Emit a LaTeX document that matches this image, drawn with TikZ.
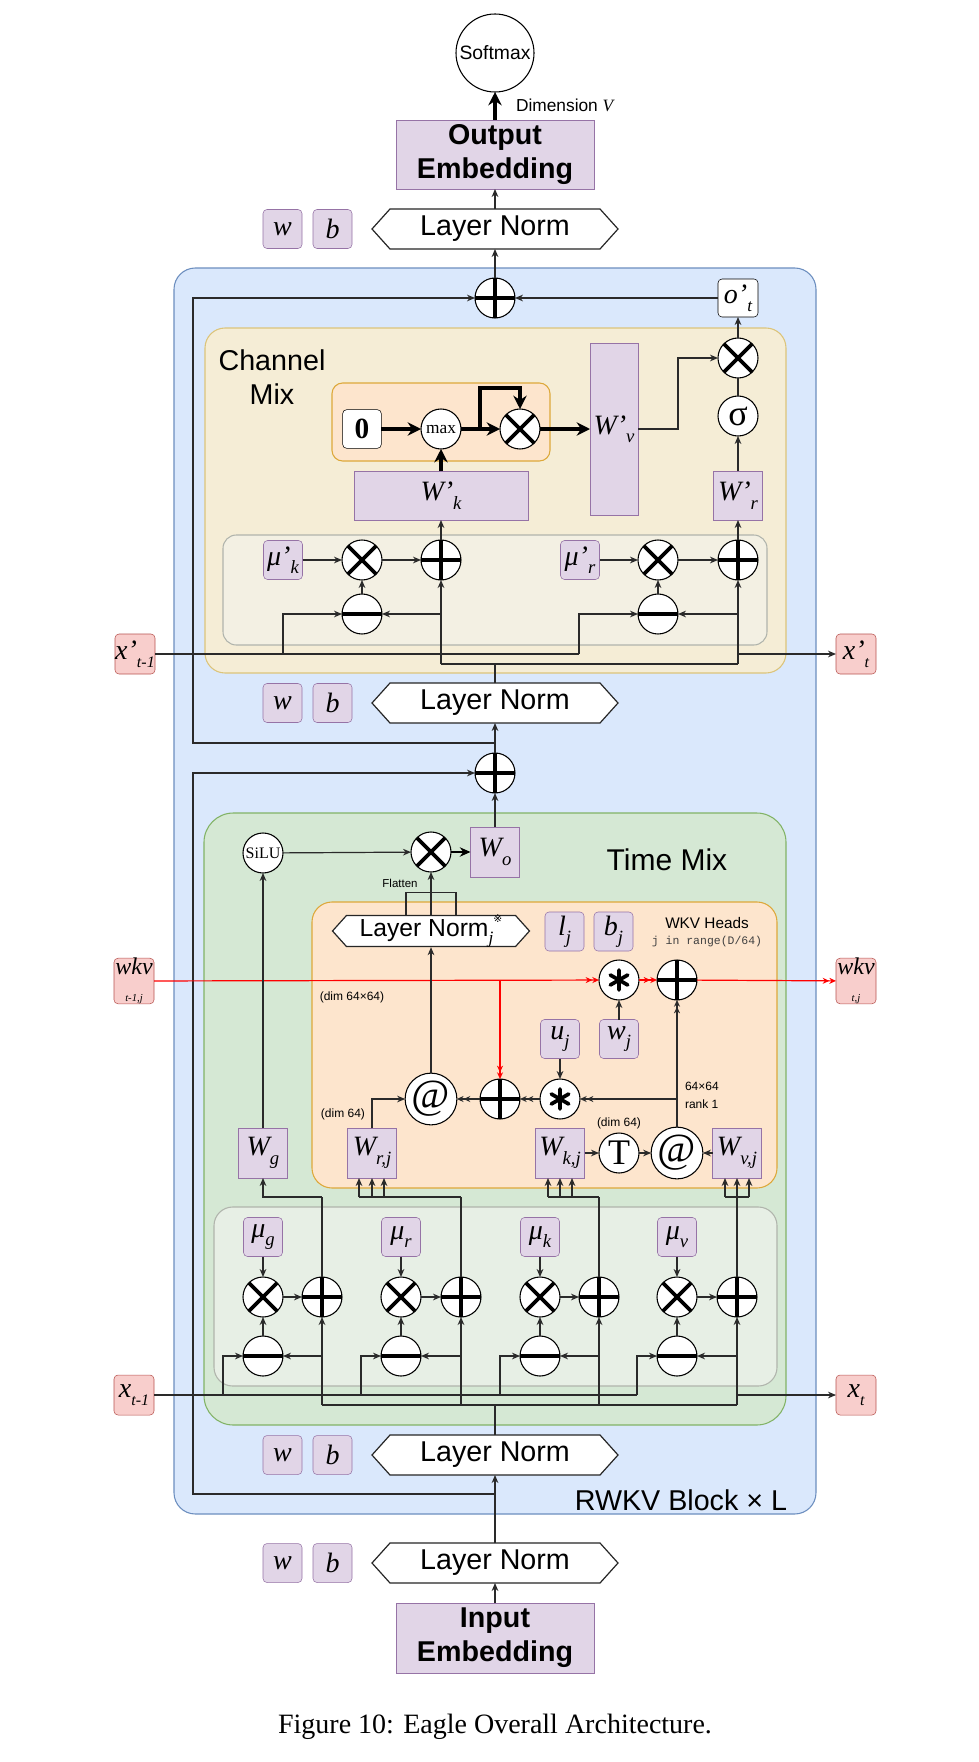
\documentclass[tikz,border=0pt]{standalone}
\usepackage{fontspec}
\setmainfont{Liberation Serif}
\newfontfamily\hv{Liberation Sans}
\newfontfamily\dvs{DejaVu Sans}
\newfontfamily\monof{Liberation Mono}
\usetikzlibrary{arrows.meta,calc}
\definecolor{purF}{HTML}{E1D5E7}
\definecolor{purD}{HTML}{9673A6}
\definecolor{pinkF}{HTML}{F8CECC}
\definecolor{pinkD}{HTML}{B85450}
\definecolor{blueF}{HTML}{DAE8FC}
\definecolor{blueD}{HTML}{6C8EBF}
\definecolor{greenF}{HTML}{D5E8D4}
\definecolor{greenD}{HTML}{82B366}
\definecolor{yelF}{HTML}{F5EDD6}
\definecolor{yelD}{HTML}{DCC47A}
\definecolor{oraF}{HTML}{FDE5CD}
\definecolor{oraD}{HTML}{DDA83A}
\definecolor{mixYF}{HTML}{F3F0E3}
\definecolor{mixGF}{HTML}{E7EFE5}
\definecolor{mixD}{HTML}{B0B4AC}
\definecolor{lineC}{HTML}{2A2A2A}
\definecolor{redC}{HTML}{FF0000}
\newcommand\fsz[2]{\fontsize{#1}{#2}\selectfont}
\newcommand\mth{\fontsize{21}{21}\selectfont\rmfamily\itshape}
\newcommand\sbs[2][14]{\raisebox{-0.3em}{\fontsize{#1}{#1}\selectfont #2}}
\tikzset{
  every node/.style={inner sep=0pt, outer sep=0pt},
  ln/.style={line width=0.9pt, draw=lineC},
  arr/.style={ln, -{Stealth[length=6pt,width=5pt]}},
  darr/.style={ln, -{Stealth[length=5pt,width=4.5pt]Stealth[length=5pt,width=4.5pt]}},
  rarr/.style={draw=redC, line width=0.9pt, -{Stealth[length=5pt,width=4.5pt]Stealth[length=5pt,width=4.5pt]}},
  thk/.style={line width=2.6pt, draw=black, -{Stealth[length=10pt,width=10pt]}},
  midarr/.style={line width=1.8pt, draw=black, -{Stealth[length=8pt,width=7pt]}},
  param/.style={draw=purD, fill=purF, rounded corners=3pt, minimum width=29.25pt, minimum height=29.25pt, font=\mth},
  wbox/.style={draw=purD, fill=purF, minimum width=36.75pt, minimum height=37.5pt, font=\mth},
  opc/.style={circle, draw=black, fill=white, line width=0.8pt, minimum size=30pt},
  opl/.style={line width=2.8pt, draw=black},
  pinkbox/.style={draw=pinkD, fill=pinkF, rounded corners=3pt, minimum width=30pt, minimum height=30pt, font=\mth},
  lbl/.style={font=\hv\fsz{9}{10}},
  cont/.style={line width=0.8pt},
}
\newcommand\opnode[3]{\node[opc] (#1) at ({#2},{#3}) {};}
\newcommand\otimesN[3]{\opnode{#1}{#2}{#3}\draw[opl] (#1.45)--(#1.225) (#1.135)--(#1.315);}
\newcommand\oplusN[3]{\opnode{#1}{#2}{#3}\draw[opl] (#1.north)--(#1.south) (#1.east)--(#1.west);}
\newcommand\ominusN[3]{\opnode{#1}{#2}{#3}\draw[opl] (#1.east)--(#1.west);}
\newcommand\astN[3]{\opnode{#1}{#2}{#3}\draw[line width=2.8pt, line cap=round] ($(#1)+(0,-10)$) -- ($(#1)+(0,10)$) ($(#1)+(-8.7,-5)$) -- ($(#1)+(8.7,5)$) ($(#1)+(-8.7,5)$) -- ($(#1)+(8.7,-5)$);}
\newcommand\LNorm[6]{%
  \draw[line width=0.9pt, draw=black!85, fill=white] ({#2-#4},{#3}) -- ({#2-#4+#5*0.9},{#3-#5}) -- ({#2+#4-#5*0.9},{#3-#5}) -- ({#2+#4},{#3}) -- ({#2+#4-#5*0.9},{#3+#5}) -- ({#2-#4+#5*0.9},{#3+#5}) -- cycle;
  \node[minimum width={2*#4*0.75pt}, minimum height={2*#5*0.75pt}] (#1) at ({#2},{#3}) {#6};}
\begin{document}
\begin{tikzpicture}[x=0.75pt,y=-0.75pt]
\useasboundingbox (0,0) rectangle (978,1762);
\fill[white] (0,0) rectangle (978,1762);
% ---------- containers ----------
\draw[cont, draw=blueD, fill=blueF, rounded corners=16pt] (174,268) rectangle (816,1514);
\draw[cont, draw=yelD, fill=yelF, rounded corners=15pt] (205,328) rectangle (786,673);
\draw[cont, draw=oraD, fill=oraF, rounded corners=8pt] (332,383) rectangle (550,461);
\draw[cont, draw=mixD, fill=mixYF, rounded corners=10pt] (223,535) rectangle (767,645);
\draw[cont, draw=greenD, fill=greenF, rounded corners=22pt] (204,813) rectangle (786,1425);
\draw[cont, draw=oraD, fill=oraF, rounded corners=15pt] (312,902) rectangle (777,1188);
\draw[cont, draw=mixD, fill=mixGF, rounded corners=14pt] (214,1207) rectangle (777,1386);
% ---------- top ----------
\node[circle, draw=black, fill=white, line width=0.8pt, minimum size=58.5pt, font=\hv\fsz{14.5}{16}] (soft) at (495,53) {Softmax};
\node[draw=purD, fill=purF, minimum width=148.5pt, minimum height=51.75pt, align=center, font=\hv\bfseries\fsz{21.5}{25.5}] (oe) at (495,154.5) {Output\\Embedding};
\node[anchor=west, font=\hv\fsz{13}{15}] (dimlbl) at (516,105) {Dimension {\rmfamily\itshape V}};
\LNorm{lnTop}{495}{229}{123}{20}{\hv\fsz{21.5}{24}Layer Norm}
\node[param] (wTop) at (282.5,229) {w};
\node[param] (bTop) at (332.5,229) {b};
\node[anchor=east, font=\hv\fsz{21.5}{24}] (rwkv) at (787,1500) {RWKV Block × L};
% ---------- channel mix ----------
\oplusN{addC}{495}{298}
\node[draw=black, fill=white, rounded corners=3pt, minimum width=30pt, minimum height=28.5pt, font=\mth] (ot) at (738,298) {o'\sbs[13]{t}};
\node[align=center, font=\hv\fsz{21.5}{26}] (cmT) at (272,377) {Channel\\Mix};
\node[draw=black, fill=white, rounded corners=3pt, minimum width=29pt, minimum height=29pt, font=\rmfamily\bfseries\fsz{22}{22}] (zero) at (362,429) {0};
\node[opc, font=\rmfamily\fsz{13}{13}] (max) at (441,429) {max};
\otimesN{mulC}{520}{429}
\node[wbox, minimum width=36pt, minimum height=129pt] (Wv) at (614,429) {W'\sbs{v}};
\node[wbox, minimum width=130.5pt, minimum height=36.75pt] (Wk) at (441,495.5) {W'\sbs{k}};
\node[wbox, minimum height=36.75pt] (Wr) at (738,495.5) {W'\sbs{r}};
\otimesN{mulO}{738}{358}
\node[opc, font=\rmfamily\fsz{27}{27}] (sig) at (738,416) {σ};
\node[param] (muk) at (283,560) {μ'\sbs{k}};
\otimesN{mk}{362}{560}
\oplusN{ak}{441}{560}
\ominusN{sk}{362}{614}
\node[param] (mur) at (580,560) {μ'\sbs{r}};
\otimesN{mr}{658}{560}
\oplusN{ar}{738}{560}
\ominusN{sr}{658}{614}
\node[pinkbox] (xpc) at (135,654) {x'\sbs[12]{t-1}};
\node[pinkbox] (xcc) at (856,654) {x'\sbs[12]{t}};
\LNorm{lnC}{495}{703}{123}{20}{\hv\fsz{21.5}{24}Layer Norm}
\node[param] (wC) at (282.5,703) {w};
\node[param] (bC) at (332.5,703) {b};
% ---------- time mix ----------
\oplusN{addT}{495}{773}
\node[font=\hv\fsz{22.5}{24}] (tmT) at (667,860) {Time Mix};
\node[opc, font=\rmfamily\fsz{12}{12}] (silu) at (263,853) {SiLU};
\otimesN{mulT}{431}{852}
\node[wbox] (Wo) at (495,852) {W\sbs{o}};
\node[lbl, font=\hv\fsz{8.6}{10}] (flat) at (400,883) {Flatten};
\LNorm{lnJ}{431}{931}{98.5}{15.5}{\hv\fsz{18.5}{20}Layer Norm\raisebox{-0.3em}{\rmfamily\itshape\fsz{13}{13}j}\raisebox{0.55em}{\dvs\fsz{8}{8}※}}
\node[param] (lj) at (564.5,931.5) {l\sbs{j}};
\node[param] (bj) at (613.5,931.5) {b\sbs{j}};
\node[font=\hv\fsz{11.5}{12}] (wkvh) at (707,923) {WKV Heads};
\node[font=\monof\fsz{8.6}{10}, text=black!75] (rng) at (707,942) {j in range(D/64)};
\node[pinkbox, align=center] (wkvP) at (134,981) {{\fsz{18}{16}wkv}\\[-1pt]{\fsz{8}{8}t-1,j}};
\node[pinkbox, align=center] (wkvC) at (856,981) {{\fsz{18}{16}wkv}\\[-1pt]{\fsz{8}{8}t,j}};
\astN{stTop}{619}{980}
\oplusN{addW}{677}{980}
\node[lbl] (d6464) at (352,997) {(dim 64×64)};
\node[param] (uj) at (560,1039) {u\sbs{j}};
\node[param] (wj) at (619,1039) {w\sbs{j}};
\node[opc, font=\rmfamily\itshape\fsz{31}{31}] (atR) at (431,1099) {@};
\oplusN{addM}{500}{1099}
\astN{stLow}{560}{1099}
\node[lbl, anchor=west] (r64) at (685,1086) {64×64};
\node[lbl, anchor=west] (rk1) at (685,1104) {rank 1};
\node[lbl] (d64a) at (343,1114) {(dim 64)};
\node[lbl] (d64b) at (619,1123) {(dim 64)};
\node[opc, font=\rmfamily\fsz{27}{27}] (T) at (619,1153) {T};
\node[opc, font=\rmfamily\itshape\fsz{31}{31}] (atKV) at (677,1153) {@};
\node[wbox] (Wg) at (263,1153) {W\sbs{g}};
\node[wbox] (Wrj) at (372,1153) {W\sbs{r,j}};
\node[wbox] (Wkj) at (560,1153) {W\sbs{k,j}};
\node[wbox] (Wvj) at (737,1153) {W\sbs{v,j}};
\node[pinkbox] (xp) at (134,1395) {x\sbs[12]{t-1}};
\node[pinkbox] (xc) at (856,1395) {x\sbs[12]{t}};
\LNorm{lnT}{495}{1455}{123}{20}{\hv\fsz{21.5}{24}Layer Norm}
\node[param] (wT) at (282.5,1455) {w};
\node[param] (bT) at (332.5,1455) {b};
\LNorm{lnIn}{495}{1563}{123}{20}{\hv\fsz{21.5}{24}Layer Norm}
\node[param] (wIn) at (282.5,1563) {w};
\node[param] (bIn) at (332.5,1563) {b};
\node[draw=purD, fill=purF, minimum width=148.5pt, minimum height=52.5pt, align=center, font=\hv\bfseries\fsz{21.5}{25.5}] (ie) at (495,1638) {Input\\Embedding};
\node[font=\rmfamily\fsz{21}{24}] (cap) at (495,1727) {Figure 10: Eagle Overall Architecture.};
% ---------- connectors: top ----------
\draw[thk] (oe.north) -- (soft.south);
\draw[arr] (lnTop.north) -- (oe.south);
\draw[arr] (addC) -- (lnTop);
% ---------- connectors: channel ----------
\coordinate (jC) at (495,664);
\coordinate (cL) at (441,664);
\coordinate (cR) at (738,664);
\coordinate (jCres) at (495,743);
\coordinate (resA) at (193,743);
\coordinate (resB) at (193,298);
\coordinate (xpB1) at (283,654);
\coordinate (xpB2) at (579,654);
\coordinate (brC) at (480,429);
\coordinate (brT) at (480,388);
\coordinate (wvR) at (678,429);
\draw[ln] (lnC.north) -- (jC);
\draw[ln, line width=1.4pt] (cL) -- (cR);
\draw[arr, line width=1.4pt] (cL) -- (ak.south);
\draw[arr] (cL |- sk) -- (sk.east);
\draw[arr, line width=1.4pt] (cR) -- (ar.south);
\draw[arr] (cR |- sr) -- (sr.east);
\draw[ln] (xpc.east) -- (xpB2);
\draw[arr] (xpB1) |- (sk.west);
\draw[arr] (xpB2) |- (sr.west);
\draw[arr] (cR |- xcc) -- (xcc.west);
\draw[arr] (muk) -- (mk);
\draw[arr] (mk) -- (ak);
\draw[arr] (sk) -- (mk);
\draw[arr] (mur) -- (mr);
\draw[arr] (mr) -- (ar);
\draw[arr] (sr) -- (mr);
\draw[arr, line width=1.4pt] (ak) -- (Wk);
\draw[arr] (ar) -- (Wr);
\draw[thk] (Wk) -- (max);
\draw[thk] (zero) -- (max);
\draw[thk] (max) -- (mulC);
\draw[thk] (brC) -- (brT) -| (mulC.north);
\draw[thk] (mulC) -- (Wv);
\draw[arr] (Wv.east) -- (wvR) |- (mulO.west);
\draw[arr] (Wr) -- (sig);
\draw[ln] (sig) -- (mulO);
\draw[arr] (mulO) -- (ot);
\draw[arr] (ot) -- (addC);
\draw[arr] (jCres) -- (resA) -- (resB) -- (addC.west);
\draw[arr] (addT) -- (lnC);
% ---------- connectors: time ----------
\coordinate (jT) at (495,1494);
\coordinate (res2A) at (193,1494);
\coordinate (res2B) at (193,773);
\draw[arr] (jT) -- (res2A) -- (res2B) -- (addT.west);
\draw[arr] (silu) -- (mulT);
\draw[midarr] (mulT) -- (Wo);
\draw[arr] (Wo) -- (addT);
\draw[ln] ($(lnJ.north)+(-25,0)$) -- ++(0,-22) -- ++(50,0) -- ++(0,22);
\draw[arr] (lnJ) -- (mulT);
\coordinate (rB) at (500,980);
\draw[rarr] (wkvP) -- (stTop);
\draw[rarr] (rB) -- (addM.north);
\draw[rarr] (stTop) -- (addW);
\draw[rarr] (addW) -- (wkvC);
\draw[arr, line width=1.3pt] (wj) -- (stTop);
\draw[arr, line width=1.3pt] (uj) -- (stLow);
\coordinate (kvU) at (677,1099);
\draw[darr] (atKV.north) -- (addW.south);
\draw[darr] (kvU) -- (stLow.east);
\draw[darr] (stLow) -- (addM);
\draw[darr] (addM) -- (atR);
\draw[arr] (Wrj.north) |- (atR.west);
\draw[arr] (atR) -- (lnJ);
\draw[arr] (Wkj) -- (T);
\draw[arr] (T) -- (atKV);
\draw[arr] (Wvj) -- (atKV);
\draw[arr] (Wg) -- (silu);
% ---------- mixing (time) ----------
\foreach \n/\x/\ax in {g/263/322, r/401/461, k/540/599, v/677/737} {
  \node[param] (mu\n) at (\x,1237) {μ\sbs{\n}};
  \otimesN{mx\n}{\x}{1297}
  \oplusN{ad\n}{\ax}{1297}
  \ominusN{sb\n}{\x}{1356}
  \draw[arr, line width=1.3pt] (mu\n) -- (mx\n);
  \draw[arr, line width=1.3pt] (mx\n) -- (ad\n);
  \draw[arr, line width=1.3pt] (sb\n) -- (mx\n);
  \coordinate (cur\n) at (\ax,1405);
  \coordinate (prv\n) at ({\x-40},1395);
  \coordinate (top\n) at (\ax,1197);
  \draw[arr, line width=1.2pt] (cur\n) -- (ad\n.south);
  \draw[arr] (cur\n |- sb\n) -- (sb\n.east);
  \draw[arr] (prv\n) |- (sb\n.west);
  \draw[ln, line width=1.2pt] (ad\n.north) -- (top\n);
}
\coordinate (jT2) at (495,1405);
\draw[ln, line width=1.2pt] (curg) -- (curv);
\draw[ln] (lnT.north) -- (jT2);
\draw[ln] (xp.east) -- (prvv);
\draw[arr] (curv |- xc) -- (xc.west);
\draw[arr] (topg) -| (Wg.south);
\draw[ln, line width=1.2pt] (topr) -- ($(Wrj.south)+(-13,19)$);
\foreach \o in {-13,0,12} \draw[arr] ($(Wrj.south)+(\o,19)$) -- ($(Wrj.south)+(\o,0)$);
\draw[ln, line width=1.2pt] (topk) -- ($(Wkj.south)+(-12,19)$);
\foreach \o in {-12,0,12} \draw[arr] ($(Wkj.south)+(\o,19)$) -- ($(Wkj.south)+(\o,0)$);
\draw[ln, line width=1.2pt] ($(Wvj.south)+(-12,19)$) -- ($(Wvj.south)+(12,19)$);
\foreach \o in {-12,0,12} \draw[arr] ($(Wvj.south)+(\o,19)$) -- ($(Wvj.south)+(\o,0)$);
% ---------- bottom ----------
\draw[arr] (lnIn) -- (lnT);
\draw[arr] (ie) -- (lnIn);
\end{tikzpicture}
\end{document}
